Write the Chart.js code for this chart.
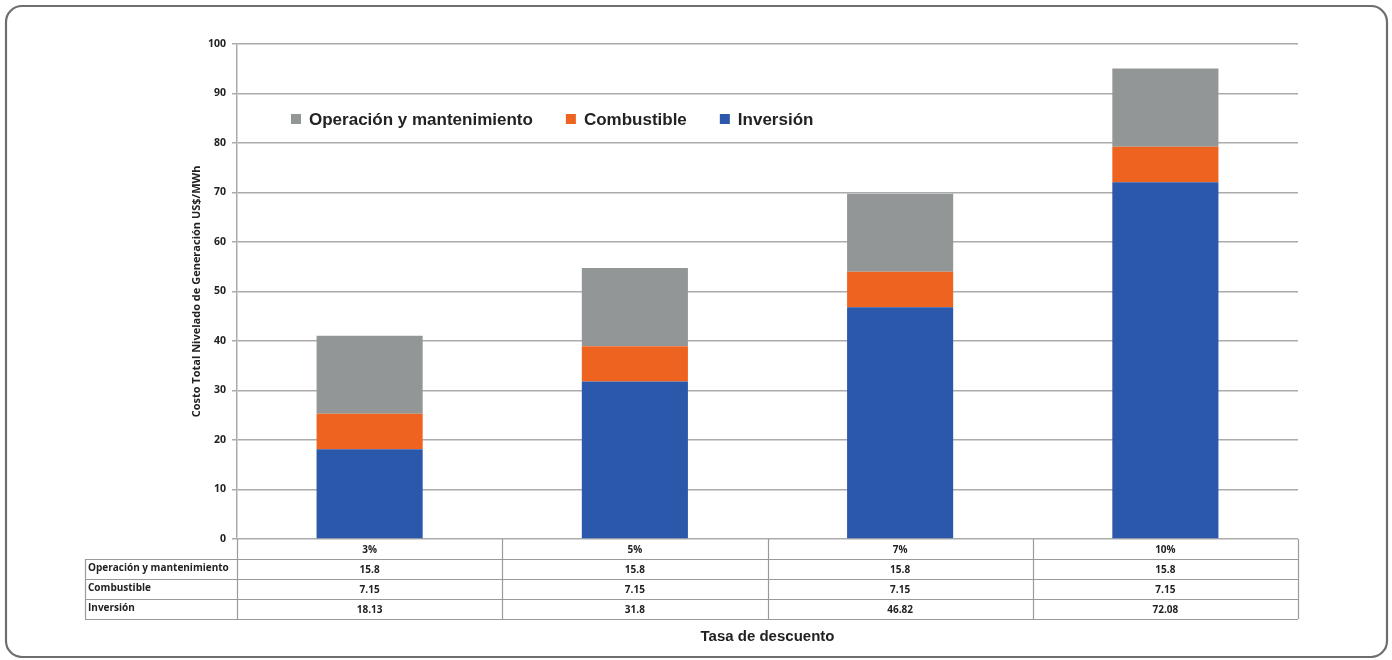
<!DOCTYPE html>
<html>
<head>
<meta charset="utf-8">
<script src="https://cdn.jsdelivr.net/npm/chart.js@4.4.0/dist/chart.umd.min.js"></script>
<style>
    html, body { margin: 0; padding: 0; background: #ffffff; }
    #wrap { width: 1392px; height: 660px; }
</style>
</head>
<body>
<div id="wrap"><canvas id="chart" width="1392" height="660"></canvas></div>
<script>
// data
const tasas = ['3%', '5%', '7%', '10%'];
const operacion = [15.8, 15.8, 15.8, 15.8];
const combustible = [7.15, 7.15, 7.15, 7.15];
const inversion = [18.13, 31.8, 46.82, 72.08];
const yTicks = [0, 10, 20, 30, 40, 50, 60, 70, 80, 90, 100];

const colorOper = '#939696';
const colorComb = '#ef6321';
const colorInv = '#2b58aa';
const lineGray = '#9a9a9a';
const tableFont = "bold 10px 'Open Sans', sans-serif";

// frame + table + legend drawn around the chart
const extras = {
    id: 'extras',
    beforeDraw: function (chart) {
        const ctx = chart.ctx;
        ctx.save();
        ctx.fillStyle = '#ffffff';
        ctx.fillRect(0, 0, chart.width, chart.height);
        ctx.strokeStyle = '#6e6e6e';
        ctx.lineWidth = 2.2;
        ctx.beginPath();
        ctx.roundRect(6, 6, 1381, 651, 16);
        ctx.stroke();
        ctx.restore();
    },
    afterDraw: function (chart) {
        const ctx = chart.ctx;
        const area = chart.chartArea;
        const x = chart.scales.x;
        const half = (area.right - area.left) / tasas.length / 2;
        const labelLeft = 85;
        const rowH = 20;
        const top = area.bottom;
        const rows = [
            ['Operación y mantenimiento', operacion],
            ['Combustible', combustible],
            ['Inversión', inversion]
        ];
        ctx.save();
        ctx.strokeStyle = lineGray;
        ctx.lineWidth = 1.2;
        // vertical lines
        ctx.beginPath();
        for (let i = 0; i <= tasas.length; i++) {
            let px = i < tasas.length ? x.getPixelForValue(i) - half : x.getPixelForValue(tasas.length - 1) + half;
            ctx.moveTo(Math.round(px) + 0.5, top);
            ctx.lineTo(Math.round(px) + 0.5, top + rowH * 4);
        }
        ctx.moveTo(labelLeft + 0.5, top + rowH);
        ctx.lineTo(labelLeft + 0.5, top + rowH * 4);
        for (let r = 1; r <= 4; r++) {
            ctx.moveTo(labelLeft, top + rowH * r + 0.5);
            ctx.lineTo(area.right, top + rowH * r + 0.5);
        }
        ctx.stroke();

        ctx.fillStyle = '#222222';
        ctx.font = tableFont;
        ctx.textBaseline = 'middle';
        ctx.textAlign = 'center';
        tasas.forEach(function (t, i) {
            ctx.fillText(t, x.getPixelForValue(i), top + rowH / 2 + 1);
        });
        rows.forEach(function (row, r) {
            const cy = top + rowH * (r + 1) + rowH / 2;
            ctx.textAlign = 'left';
            ctx.fillText(row[0], labelLeft + 3, cy - 1);
            ctx.textAlign = 'center';
            row[1].forEach(function (v, i) {
                ctx.fillText(String(v), x.getPixelForValue(i), cy + 1);
            });
        });

        // legend inside the plot
        const items = chart.data.datasets.slice().reverse();
        let lx = 291;
        const ly = 119;
        ctx.font = "bold 17px 'Liberation Sans', Arial, sans-serif";
        ctx.textAlign = 'left';
        items.forEach(function (ds) {
            ctx.fillStyle = ds.backgroundColor;
            ctx.fillRect(lx, ly - 5, 10, 10);
            ctx.fillStyle = '#222222';
            ctx.fillText(ds.label, lx + 18, ly + 1);
            lx += 18 + ctx.measureText(ds.label).width + 33;
        });
        ctx.restore();
    }
};

new Chart(document.getElementById('chart'), {
    type: 'bar',
    data: {
        labels: tasas,
        datasets: [{
            label: 'Inversión',
            data: inversion,
            backgroundColor: colorInv
        }, {
            label: 'Combustible',
            data: combustible,
            backgroundColor: colorComb
        }, {
            label: 'Operación y mantenimiento',
            data: operacion,
            backgroundColor: colorOper
        }]
    },
    options: {
        responsive: false,
        animation: false,
        layout: {
            padding: { left: 85, right: 94, top: 44, bottom: 0 }
        },
        datasets: {
            bar: {
                categoryPercentage: 1,
                barPercentage: 0.4,
                borderWidth: 0
            }
        },
        plugins: {
            legend: { display: false },
            tooltip: { enabled: false }
        },
        scales: {
            x: {
                stacked: true,
                ticks: { display: false },
                grid: { display: false },
                border: { display: false },
                title: {
                    display: true,
                    text: 'Tasa de descuento',
                    color: '#222222',
                    font: { size: 15, weight: 'bold', family: "'Liberation Sans', Arial, sans-serif", lineHeight: 1.2 },
                    padding: { top: 81, bottom: 14 }
                }
            },
            y: {
                stacked: true,
                min: 0,
                max: 100,
                afterBuildTicks: function (scale) {
                    scale.ticks = yTicks.map(function (v) { return { value: v }; });
                },
                afterFit: function (scale) {
                    scale.width = 152;
                },
                ticks: {
                    color: '#222222',
                    padding: 6,
                    font: { size: 10.5, weight: 'bold', family: "'Open Sans', sans-serif" }
                },
                grid: {
                    color: '#ababab',
                    lineWidth: 1.5,
                    tickLength: 5
                },
                border: { color: '#ababab', width: 1.5 },
                title: {
                    display: true,
                    text: 'Costo Total Nivelado de Generación US$/MWh',
                    color: '#222222',
                    font: { size: 11, weight: 'bold', family: "'Open Sans', sans-serif", lineHeight: 1.2 },
                    padding: { top: 105, bottom: 0 }
                }
            }
        }
    },
    plugins: [extras]
});
</script>
</body>
</html>
